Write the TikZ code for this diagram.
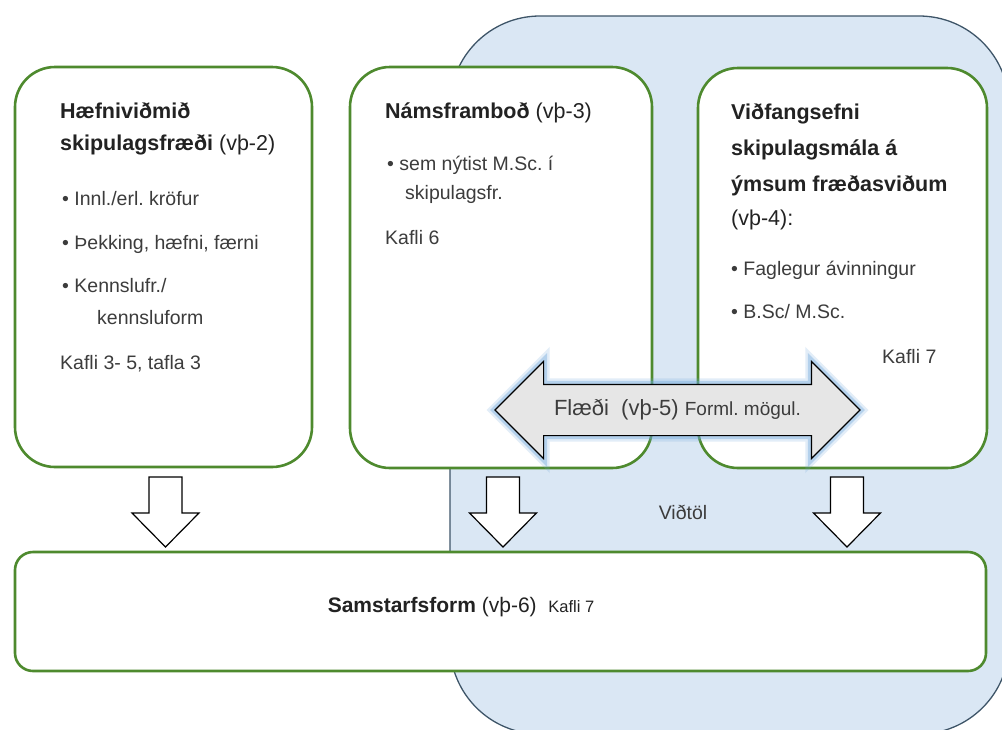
\documentclass[tikz,border=0pt]{standalone}
\usepackage{fontspec}
\setmainfont{Liberation Sans}
\usetikzlibrary{shapes.arrows}
\definecolor{bgblue}{HTML}{DAE7F4}
\definecolor{bgline}{HTML}{3E5568}
\definecolor{boxgreen}{HTML}{4E8A2E}
\definecolor{flowgray}{HTML}{E6E6E6}
\definecolor{glowblue}{HTML}{6FA8DC}
\definecolor{txtdark}{HTML}{222222}
\definecolor{txtgray}{HTML}{3C3C3C}
\frenchspacing
\begin{document}
\begin{tikzpicture}
  [x=1pt,y=-1pt,
   greenbox/.style={draw=boxgreen,line width=2.6pt,fill=white,rounded corners=40pt,inner sep=0pt},
   head/.style={anchor=base west,inner sep=0pt,text=txtdark,font=\fontsize{21.5}{25}\selectfont\bfseries},
   body/.style={anchor=base west,inner sep=0pt,text=txtgray,font=\fontsize{19.5}{23}\selectfont},
   blockarrow/.style={draw=black,line width=1.2pt,fill=white,line join=miter},
   flowarrow/.style={double arrow,draw=black,line width=1.1pt,fill=flowgray,
     double arrow head extend=23pt,double arrow tip angle=90,
     minimum height=365pt,minimum width=96pt,text height=14pt,text depth=4pt,
     inner ysep=16pt,inner xsep=0pt,text=txtgray,
     preaction={draw=glowblue,line width=12pt,opacity=.2},
     preaction={draw=glowblue,line width=7pt,opacity=.4}}]
  \useasboundingbox (0,0) rectangle (1002,729);
  \begin{scope}
    \clip (0,0) rectangle (1002,729);
    \draw[fill=bgblue,draw=bgline,line width=1.3pt,rounded corners=90pt] (450,16) rectangle (1009,734);
  \end{scope}

  \node[greenbox,minimum width=297pt,minimum height=400pt] (hf) at (163.5,267) {};
  \node[greenbox,minimum width=302pt,minimum height=401pt] (nf) at (501,267.5) {};
  \node[greenbox,minimum width=289pt,minimum height=400pt] (vf) at (842.5,268) {};
  \node[greenbox,rounded corners=18pt,minimum width=971pt,minimum height=119pt] (sf) at (500.5,611.5) {};

  \foreach \x [count=\i] in {165.5,503,847} {
    \coordinate (dn\i) at (\x,477);
    \draw[blockarrow] (dn\i) ++(-16.5,0) -- ++(0,36) -- ++(-17,0) -- ++(33.5,34) -- ++(33.5,-34) -- ++(-17,0) -- ++(0,-36) -- cycle;
  }

  \node[flowarrow] (flow) at (677.5,410) {{\fontsize{22}{26}\selectfont Flæði\ \ (vþ-5)\ }{\fontsize{19}{22}\selectfont Forml.~mögul.}};

  \node[head] (hf1) at (60,118) {Hæfniviðmið};
  \node[head] (hf2) at (60,150) {skipulagsfræði {\mdseries(vþ-2)}};
  \foreach \xx/\yy/\t [count=\i] in {62/205/{•~Innl./erl. kröfur},62/249/{•~Þekking, hæfni, færni},62/292/{•~Kennslufr./},97/324/{kennsluform},60/369/{Kafli 3- 5, tafla 3}}
    \node[body] (hfb\i) at (\xx,\yy) {\t};

  \node[head] (nf1) at (385,118) {Námsframboð {\mdseries(vþ-3)}};
  \foreach \xx/\yy/\t [count=\i] in {387/170/{•~sem nýtist M.Sc. í},405/199/{skipulagsfr.},385/244/{Kafli 6}}
    \node[body] (nfb\i) at (\xx,\yy) {\t};

  \node[head] (vf1) at (731,119) {Viðfangsefni};
  \node[head] (vf2) at (731,155) {skipulagsmála á};
  \node[head] (vf3) at (731,191) {ýmsum fræðasviðum};
  \node[head] (vf4) at (731,225) {\mdseries(vþ-4):};
  \foreach \xx/\yy/\t [count=\i] in {731/275/{•~Faglegur ávinningur},731/318/{•~B.Sc/ M.Sc.},882/363/{Kafli 7}}
    \node[body] (vfb\i) at (\xx,\yy) {\t};

  \node[body,anchor=center] (vt) at (683,512) {Viðtöl};
  \node[text=txtdark,font=\fontsize{21}{25}\selectfont] (sft) at (461,607) {{\bfseries Samstarfsform} (vþ-6)\ \ {\fontsize{16.5}{20}\selectfont Kafli 7}};
\end{tikzpicture}
\end{document}
